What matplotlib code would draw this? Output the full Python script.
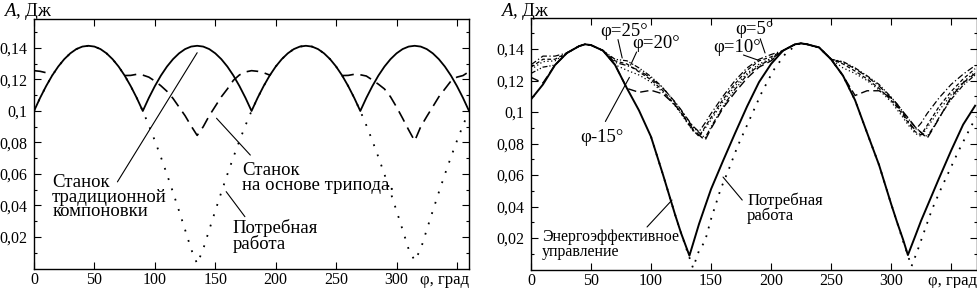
import numpy as np
import matplotlib
matplotlib.use('Agg')
import matplotlib.pyplot as plt

plt.rcParams['font.family'] = ['Liberation Serif', 'DejaVu Serif']
plt.rcParams['font.size'] = 11
plt.rcParams['mathtext.fontset'] = 'custom'
plt.rcParams['mathtext.it'] = 'Liberation Serif:italic'
plt.rcParams['mathtext.rm'] = 'Liberation Serif'

nan = np.nan

# ---- left panel: angle grid, step 5 deg ----
phi_l = np.arange(0, 361, 5)

# traditional machine (solid)
A_trad = [
    .1000, .1083, .1158, .1225, .1282, .1329, .1366, .1393, .1409, .1414,
    .1409, .1393, .1366, .1329, .1282, .1225, .1158, .1083,
    .1000, .1083, .1158, .1225, .1282, .1329, .1366, .1393, .1409, .1414,
    .1409, .1393, .1366, .1329, .1282, .1225, .1158, .1083,
    .1000, .1083, .1158, .1225, .1282, .1329, .1366, .1393, .1409, .1414,
    .1409, .1393, .1366, .1329, .1282, .1225, .1158, .1083,
    .1000, .1083, .1158, .1225, .1282, .1329, .1366, .1393, .1409, .1414,
    .1409, .1393, .1366, .1329, .1282, .1225, .1158, .1083,
    .1000]

# required work (dotted)
A_req_l = [
    .1000, .1083, .1158, .1225, .1282, .1329, .1366, .1393, .1409, .1414,
    .1409, .1393, .1366, .1329, .1282, .1225, .1158, .1083,
    .1000, .0909, .0811, .0707, .0598, .0484, .0366, .0246, .0123, .0030,
    .0123, .0246, .0366, .0484, .0598, .0707, .0811, .0909,
    .1000, .1083, .1158, .1225, .1282, .1329, .1366, .1393, .1409, .1414,
    .1409, .1393, .1366, .1329, .1282, .1225, .1158, .1083,
    .1000, .0909, .0811, .0707, .0598, .0484, .0366, .0246, .0123, .0050,
    .0123, .0246, .0366, .0484, .0598, .0707, .0811, .0909,
    .1000]

# tripod machine (dashed), nan where it runs under the solid curve
A_tripod = [
    .1256, .1252, .1243, .1228, nan, nan, nan, nan, nan, nan,
    nan, nan, nan, nan, nan, .1225, .1226, .1233,
    .1228, .1215, .1190, .1160, .1125, .1080, .1025, .0970, .0905, .0845,
    .0900, .0970, .1030, .1090, .1140, .1195, .1229, .1248,
    .1256, .1252, .1243, .1228, nan, nan, nan, nan, nan, nan,
    nan, nan, nan, nan, nan, .1225, .1226, .1233,
    .1230, .1222, .1197, .1170, .1140, .1090, .1025, .0954, .0880, .0810,
    .0900, .0965, .1027, .1090, .1140, .1190, .1215, .1225,
    .1250]

# ---- right panel ----
phi_r = [0, 10, 20, 30, 40, 45, 50, 60, 70, 80, 90, 100, 110, 120, 125, 132, 135, 140, 145, 150,
         160, 170, 180, 190, 200, 210, 220, 225, 230, 240, 250, 260, 270, 280, 290, 300,
         305, 310, 314, 320, 325, 330, 335, 340, 350, 360, 370]

A_eff = [.1080, .1175, .1298, .1375, .1418, .1430, .1425, .1390, .1300, .1150,
         .1010, .0843, .0602, .0350, .0232, .0088, .0163, .0289, .0400, .0510,
         .0690, .0865, .1035, .1190, .1305, .1390, .1430, .1436, .1430, .1410,
         .1335, .1230, .1075, .0868, .0663, .0417,
         .0300, .0190, .0092, .0210, .0310, .0400, .0490, .0580, .0755, .0920, .1040]

A_phi5 = [.1300, .1355, .1355, .1375, .1418, .1430, .1425, .1390, .1315, .1295,
          .1265, .1215, .1150, .1065, .1015, .0940, .0910, .0875, .0930, .0990,
          .1100, .1200, .1280, .1335, .1365, .1390, .1430, .1436, .1430, .1410,
          .1335, .1315, .1275, .1225, .1165, .1090,
          .1040, .0990, .0945, .0885, .0930, .0990, .1040, .1090, .1175, .1240, .1295]

A_phi10 = [.1270, .1320, .1325, .1375, .1418, .1430, .1425, .1390, .1300, .1265,
           .1235, .1190, .1125, .1040, .0990, .0910, .0880, .0850, .0895, .0950,
           .1065, .1165, .1245, .1305, .1340, .1390, .1430, .1436, .1430, .1410,
           .1335, .1280, .1245, .1200, .1140, .1065,
           .1015, .0965, .0920, .0865, .0845, .0900, .0955, .1010, .1110, .1190, .1255]

A_phi15 = [.1220, .1185, .1298, .1375, .1418, .1430, .1425, .1390, .1300, .1150,
           .1125, .1138, .1115, .1045, .0995, .0925, .0890, .0855, .0820, .0895,
           .1025, .1125, .1215, .1285, .1325, .1390, .1430, .1436, .1430, .1410,
           .1335, .1230, .1105, .1135, .1135, .1090,
           .1050, .1000, .0965, .0905, .0870, .0833, .0895, .0960, .1095, .1185, .1245]

A_phi20 = [.1285, .1335, .1335, .1375, .1418, .1430, .1425, .1390, .1325, .1305,
           .1255, .1205, .1135, .1045, .0995, .0915, .0885, .0845, .0905, .0965,
           .1080, .1180, .1265, .1325, .1350, .1390, .1430, .1436, .1430, .1410,
           .1335, .1305, .1260, .1210, .1150, .1075,
           .1030, .0980, .0935, .0875, .0855, .0915, .0975, .1035, .1130, .1210, .1275]

A_phi25 = [.1245, .1285, .1298, .1375, .1418, .1430, .1425, .1390, .1335, .1325,
           .1280, .1225, .1155, .1060, .1010, .0935, .0905, .0870, .0835, .0905,
           .1035, .1145, .1235, .1295, .1335, .1390, .1430, .1436, .1430, .1410,
           .1335, .1320, .1280, .1230, .1175, .1095,
           .1050, .1000, .0960, .0905, .0870, .0845, .0900, .0965, .1080, .1170, .1235]

phi_req_r = [100, 110, 120, 125, 130, 135, 140, 145, 150, 158, 165, 172, 182, 192, 202, 212, 222,
             230, 240, 250, 260, 270, 280, 290, 300, 305, 310, 317, 322, 328, 334, 342, 356, 366, 371]
A_req_r = [.0843, .0602, .0350, .0232, .0120, .0010, .0120, .0180, .0320,
           .0510, .0640, .0780, .0950, .1120, .1265, .1370, .1432,
           .1430, .1410, .1335, .1230, .1075, .0868, .0663, .0417,
           .0300, .0180, .0020, .0120, .0250, .0380, .0520, .0750, .0900, .0970]

yticks = [0.02, 0.04, 0.06, 0.08, 0.10, 0.12, 0.14]
ytick_labels = ['0,02', '0,04', '0,06', '0,08', '0,1', '0,12', '0,14']
xticks = [0, 50, 100, 150, 200, 250, 300, 350]
xtick_labels = ['0', '50', '100', '150', '200', '250', '300', '']

fig = plt.figure(figsize=(9.78, 2.88), dpi=100)
ax1 = fig.add_axes([0.0348, 0.0677, 0.4448, 0.8663])
ax2 = fig.add_axes([0.5429, 0.0642, 0.4560, 0.8733])


def style(ax, xmax, ymax):
    ax.set_xlim(0, xmax)
    ax.set_ylim(0, ymax)
    ax.set_xticks(xticks)
    ax.set_xticklabels(xtick_labels)
    ax.set_yticks(yticks)
    ax.set_yticklabels(ytick_labels)
    ax.set_yticks(np.arange(0.01, 0.16, 0.02), minor=True)
    ax.tick_params(which='both', direction='in', top=True, right=True, width=0.8, labelsize=11.5)
    ax.tick_params(which='major', length=5)
    ax.tick_params(which='minor', length=2.5)
    ax.tick_params(axis='x', pad=2.5)
    ax.tick_params(axis='y', pad=5)
    for s in ax.spines.values():
        s.set_linewidth(1.0)
    ax.annotate('φ, град', xy=(1, 0), xycoords='axes fraction', xytext=(0, -2.5),
                textcoords='offset points', ha='right', va='top', fontsize=12)


line = dict(arrowstyle='-', lw=0.8, color='black', shrinkA=0, shrinkB=0)

# left panel
ax1.plot(phi_l, A_req_l, color='black', lw=1.3, linestyle=(0, (1, 5)), zorder=2)
ax1.plot(phi_l, A_tripod, color='black', lw=1.2, linestyle=(0, (7, 4)), zorder=2)
ax1.plot(phi_l, A_trad, color='black', lw=1.3, zorder=3)
style(ax1, 360, 0.1584)

ax1.text(15, 0.0600, 'Станок\nтрадиционной\nкомпоновки', ha='left', va='top',
         fontsize=13.5, linespacing=0.82)
ax1.annotate('', xy=(135, 0.137), xytext=(69, 0.055), arrowprops=line)
ax1.text(172, 0.0675, 'Станок\nна основе трипода.', ha='left', va='top',
         fontsize=13.5, linespacing=0.82)
ax1.annotate('', xy=(151, 0.0954), xytext=(179, 0.072), arrowprops=line)
ax1.text(164.5, 0.0312, 'Потребная\nработа', ha='left', va='top',
         fontsize=13.5, linespacing=0.82)
ax1.annotate('', xy=(159, 0.0488), xytext=(174.5, 0.0329), arrowprops=line)

# right panel
ax2.plot(phi_r, A_phi5, color='black', lw=0.9, linestyle=(0, (5, 2, 1, 2)), zorder=2)
ax2.plot(phi_r, A_phi10, color='black', lw=0.9, linestyle=(0, (1, 2)), zorder=2)
ax2.plot(phi_r, A_phi15, color='black', lw=1.0, linestyle=(0, (6, 3)), zorder=2)
ax2.plot(phi_r, A_phi20, color='black', lw=0.9, linestyle=(0, (3, 2)), zorder=2)
ax2.plot(phi_r, A_phi25, color='black', lw=0.9, linestyle=(0, (4, 1.5, 1, 1.5, 1, 1.5)), zorder=2)
ax2.plot(phi_req_r, A_req_r, color='black', lw=1.3, linestyle=(0, (1, 4)), zorder=2)
ax2.plot(phi_r, A_eff, color='black', lw=1.4, zorder=3)
style(ax2, 371.5, 0.1597)

ax2.text(57.5, 0.1565, 'φ=25°', ha='left', va='top', fontsize=13.5)
ax2.annotate('', xy=(76, 0.1343), xytext=(72.5, 0.146), arrowprops=line)
ax2.text(84, 0.1490, 'φ=20°', ha='left', va='top', fontsize=13.5)
ax2.annotate('', xy=(83, 0.1298), xytext=(88, 0.1381), arrowprops=line)
ax2.text(41, 0.0893, 'φ-15°', ha='left', va='top', fontsize=13.5)
ax2.annotate('', xy=(82, 0.122), xytext=(62, 0.094), arrowprops=line)
ax2.text(170, 0.1575, 'φ=5°', ha='left', va='top', fontsize=13.5)
ax2.annotate('', xy=(195, 0.1375), xytext=(191, 0.1465), arrowprops=line)
ax2.text(151.7, 0.1464, 'φ=10°', ha='left', va='top', fontsize=13.5)
ax2.annotate('', xy=(189, 0.133), xytext=(177, 0.1362), arrowprops=line)
ax2.text(9, 0.0255, 'Энергоэффективное\nуправление', ha='left', va='top',
         fontsize=11.5, linespacing=0.88)
ax2.annotate('', xy=(117.5, 0.0441), xytext=(96.7, 0.027), arrowprops=line)
ax2.text(180, 0.0490, 'Потребная\nработа', ha='left', va='top', fontsize=12, linespacing=0.88)
ax2.annotate('', xy=(160, 0.0587), xytext=(176, 0.0441), arrowprops=line)

fig.text(0.003, 0.997, r'$\mathit{A}$, Дж', ha='left', va='top', fontsize=13.5)
fig.text(0.511, 0.997, r'$\mathit{A}$, Дж', ha='left', va='top', fontsize=13.5)

fig.savefig('out.png', dpi=100)
